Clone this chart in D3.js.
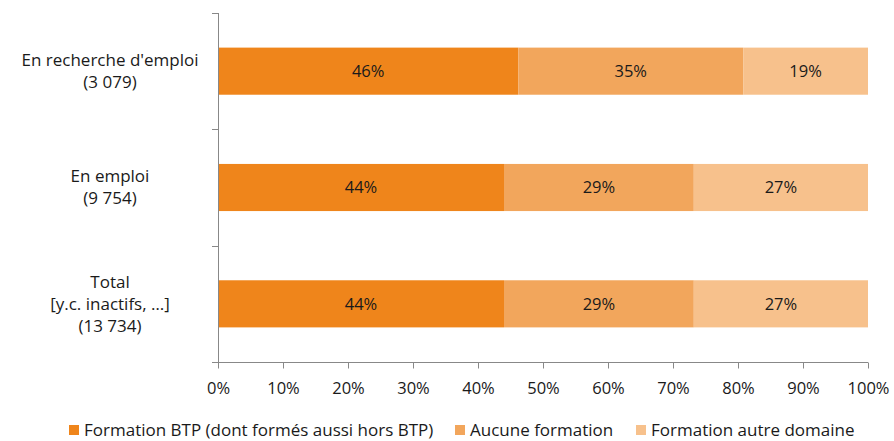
<!DOCTYPE html>
<html>
<head>
<meta charset="utf-8">
<script src="https://cdn.jsdelivr.net/npm/d3@7"></script>
<style>
body { margin: 0; background: #fff; }
text { font-family: "Open Sans", sans-serif; fill: #1a1a1a; }
</style>
</head>
<body>
<script>
var width = 894;
var height = 441;

var categories = [
  ["En recherche d'emploi", "(3 079)"],
  ["En emploi", "(9 754)"],
  ["Total", "[y.c. inactifs, …]", "(13 734)"]
];
var series = ["Formation BTP (dont formés aussi hors BTP)", "Aucune formation", "Formation autre domaine"];
var btp = [46.2, 44.0, 44.0];
var aucune = [34.6, 29.2, 29.2];
var autre = [19.2, 26.8, 26.8];
var labelsBtp = ["46%", "44%", "44%"];
var labelsAucune = ["35%", "29%", "29%"];
var labelsAutre = ["19%", "27%", "27%"];
var ticks = [0, 10, 20, 30, 40, 50, 60, 70, 80, 90, 100];
var colors = ["#ef851b", "#f2a65c", "#f7c18c"];

var svg = d3.select("body")
    .append("svg")
    .attr("width", width)
    .attr("height", height);

var x = d3.scaleLinear().domain([0, 100]).range([218, 868]);
var y = d3.scaleBand().domain(d3.range(categories.length)).range([13, 362]).paddingInner(0.595).paddingOuter(0.2975);

var rows = categories.map(function(c, i) {
  return { i: i, vals: [btp[i], aucune[i], autre[i]], labs: [labelsBtp[i], labelsAucune[i], labelsAutre[i]] };
});

rows.forEach(function(r) {
  var start = 0;
  r.vals.forEach(function(v, k) {
    svg.append("rect")
      .attr("x", x(start))
      .attr("y", y(r.i))
      .attr("width", x(start + v) - x(start))
      .attr("height", y.bandwidth())
      .attr("fill", colors[k]);
    svg.append("text")
      .attr("x", x(start + v / 2))
      .attr("y", y(r.i) + y.bandwidth() / 2)
      .attr("dy", "0.35em")
      .attr("text-anchor", "middle")
      .style("font-size", "16.5px")
      .text(r.labs[k]);
    start += v;
  });
});

// y axis line and ticks
svg.append("line")
  .attr("x1", 218.5).attr("x2", 218.5).attr("y1", 13).attr("y2", 362)
  .attr("stroke", "#888");
var step = (362 - 13) / categories.length;
for (var t = 0; t <= categories.length; t++) {
  svg.append("line")
    .attr("x1", 212).attr("x2", 218)
    .attr("y1", Math.round(13 + t * step) + 0.5).attr("y2", Math.round(13 + t * step) + 0.5)
    .attr("stroke", "#888");
}

// x axis
var xAxis = svg.append("g")
  .attr("transform", "translate(0,362.5)")
  .call(d3.axisBottom(x).tickValues(ticks).tickSize(6).tickPadding(14).tickFormat(function(d) { return d + "%"; }));
xAxis.select(".domain").attr("stroke", "#888").attr("d", "M218,0H868");
xAxis.selectAll(".tick line").attr("stroke", "#888");
xAxis.selectAll("text").style("font-size", "16.5px").style("font-family", "'Open Sans', sans-serif").attr("fill", "#1a1a1a");

// category labels
categories.forEach(function(c, i) {
  var cy = y(i) + y.bandwidth() / 2;
  var lh = 22;
  var t = svg.append("text")
    .attr("text-anchor", "middle")
    .style("font-size", "17px");
  c.forEach(function(line, j) {
    t.append("tspan")
      .attr("x", 110)
      .attr("y", cy + (j - (c.length - 1) / 2) * lh)
      .attr("dy", "0.35em")
      .text(line);
  });
});

// legend
var legendX = [69, 455, 636];
var legend = svg.selectAll(".legend")
  .data(series)
  .enter().append("g")
  .attr("class", "legend")
  .attr("transform", function(d, i) { return "translate(" + legendX[i] + ",425)"; });
legend.append("rect")
  .attr("width", 10).attr("height", 10)
  .attr("fill", function(d, i) { return colors[i]; });
legend.append("text")
  .attr("x", 15).attr("y", 5).attr("dy", "0.35em")
  .style("font-size", "17px")
  .text(function(d) { return d; });
</script>
</body>
</html>
